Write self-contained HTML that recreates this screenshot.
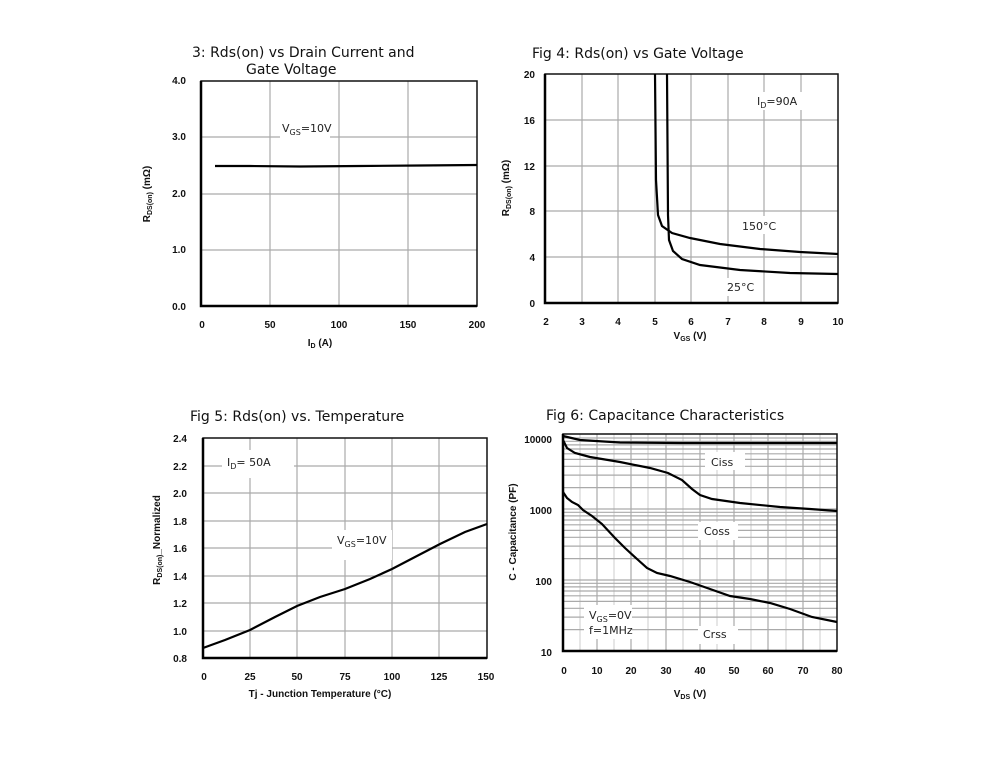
<!DOCTYPE html>
<html><head><meta charset="utf-8"><style>
html,body{margin:0;padding:0;background:#fff}
svg{display:block}
.t{font-family:"DejaVu Sans","Liberation Sans",sans-serif;font-size:14px;fill:#111}
.k{font-family:"Liberation Sans",sans-serif;font-size:10px;font-weight:bold;fill:#111}
.a{font-family:"Liberation Sans",sans-serif;font-size:10px;font-weight:bold;fill:#111}
.l{font-family:"DejaVu Sans","Liberation Sans",sans-serif;font-size:11px;fill:#222}
.g{stroke:#aaa;stroke-width:1.2;fill:none}
.g2{stroke:#ccc;stroke-width:1;fill:none}
.c{stroke:#000;stroke-width:2.2;fill:none}
</style></head><body>
<svg width="1005" height="764" viewBox="0 0 1005 764" xmlns="http://www.w3.org/2000/svg">
<!-- Fig 3 -->
<text class="t" x="192" y="57">3: Rds(on) vs Drain Current and</text>
<text class="t" x="246" y="74">Gate Voltage</text>
<g class="g">
<path d="M270 81V306M339 81V306M408 81V306M201 137H477M201 194H477M201 250H477"/>
</g>
<rect x="280" y="118" width="50" height="20" fill="#fff"/>
<rect x="201" y="81" width="276" height="225" fill="none" stroke="#111" stroke-width="1.5"/>
<path d="M201 81V306H477" stroke="#000" stroke-width="2.5" fill="none"/>
<path class="c" d="M215 166L250 166L300 166.5L360 166L420 165.5L477 165"/>
<text class="l" x="282" y="132">V<tspan font-size="8" dy="3">GS</tspan><tspan dy="-3">=10V</tspan></text>
<g class="k" text-anchor="end"><text x="186" y="84">4.0</text><text x="186" y="140">3.0</text><text x="186" y="197">2.0</text><text x="186" y="253">1.0</text><text x="186" y="310">0.0</text></g>
<g class="k" text-anchor="middle"><text x="202" y="328">0</text><text x="270" y="328">50</text><text x="339" y="328">100</text><text x="408" y="328">150</text><text x="477" y="328">200</text></g>
<text class="a" x="320" y="346" text-anchor="middle">I<tspan font-size="7" dy="2">D</tspan><tspan dy="-2"> (A)</tspan></text>
<text class="a" transform="translate(150 194) rotate(-90)" text-anchor="middle">R<tspan font-size="7" dy="2">DS(on)</tspan><tspan dy="-2"> (mΩ)</tspan></text>

<!-- Fig 4 -->
<text class="t" x="532" y="58">Fig 4: Rds(on) vs Gate Voltage</text>
<g class="g">
<path d="M582 74V303M618 74V303M655 74V303M691 74V303M728 74V303M764 74V303M801 74V303M545 120H838M545 166H838M545 211H838M545 257H838"/>
</g>
<rect x="755" y="92" width="48" height="18" fill="#fff"/>
<rect x="738" y="216" width="44" height="18" fill="#fff"/>
<rect x="722" y="278" width="40" height="18" fill="#fff"/>
<rect x="545" y="74" width="293" height="229" fill="none" stroke="#111" stroke-width="1.5"/>
<path d="M545 74V303H838" stroke="#000" stroke-width="2.5" fill="none"/>
<path class="c" d="M655 74L656 180L658 215L662 226L672 233L690 238L720 244L760 249L800 252L838 254"/>
<path class="c" d="M667 74L668 215L669 240L673 251L682 259L700 265L740 270L790 273L838 274"/>
<text class="l" x="757" y="105">I<tspan font-size="8" dy="3">D</tspan><tspan dy="-3">=90A</tspan></text>
<text class="l" x="742" y="230">150°C</text>
<text class="l" x="727" y="291">25°C</text>
<g class="k" text-anchor="end"><text x="535" y="78">20</text><text x="535" y="124">16</text><text x="535" y="170">12</text><text x="535" y="215">8</text><text x="535" y="261">4</text><text x="535" y="307">0</text></g>
<g class="k" text-anchor="middle"><text x="546" y="325">2</text><text x="582" y="325">3</text><text x="618" y="325">4</text><text x="655" y="325">5</text><text x="691" y="325">6</text><text x="728" y="325">7</text><text x="764" y="325">8</text><text x="801" y="325">9</text><text x="838" y="325">10</text></g>
<text class="a" x="690" y="339" text-anchor="middle">V<tspan font-size="7" dy="2">GS</tspan><tspan dy="-2"> (V)</tspan></text>
<text class="a" transform="translate(509 188) rotate(-90)" text-anchor="middle">R<tspan font-size="7" dy="2">DS(on)</tspan><tspan dy="-2"> (mΩ)</tspan></text>

<!-- Fig 5 -->
<text class="t" x="190" y="421">Fig 5: Rds(on) vs. Temperature</text>
<g class="g">
<path d="M250 438V658M297 438V658M345 438V658M392 438V658M439 438V658M203 466H487M203 493H487M203 521H487M203 548H487M203 576H487M203 603H487M203 631H487"/>
</g>
<rect x="222" y="450" width="72" height="28" fill="#fff"/>
<rect x="332" y="530" width="60" height="30" fill="#fff"/>
<rect x="203" y="438" width="284" height="220" fill="none" stroke="#111" stroke-width="1.5"/>
<path d="M203 438V658H487" stroke="#000" stroke-width="2.5" fill="none"/>
<path class="c" d="M203 648L225 640L250 630L275 617L297 606L320 597L345 589L370 579L392 569L415 557L440 544L465 532L487 524"/>
<text class="l" x="227" y="466">I<tspan font-size="8" dy="3">D</tspan><tspan dy="-3">= 50A</tspan></text>
<text class="l" x="337" y="544">V<tspan font-size="8" dy="3">GS</tspan><tspan dy="-3">=10V</tspan></text>
<g class="k" text-anchor="end"><text x="187" y="442">2.4</text><text x="187" y="470">2.2</text><text x="187" y="497">2.0</text><text x="187" y="525">1.8</text><text x="187" y="552">1.6</text><text x="187" y="580">1.4</text><text x="187" y="607">1.2</text><text x="187" y="635">1.0</text><text x="187" y="662">0.8</text></g>
<g class="k" text-anchor="middle"><text x="204" y="680">0</text><text x="250" y="680">25</text><text x="297" y="680">50</text><text x="345" y="680">75</text><text x="392" y="680">100</text><text x="439" y="680">125</text><text x="486" y="680">150</text></g>
<text class="a" x="320" y="697" text-anchor="middle">Tj - Junction Temperature (°C)</text>
<text class="a" transform="translate(160 540) rotate(-90)" text-anchor="middle">R<tspan font-size="7" dy="2">DS(on)</tspan><tspan dy="-2">_Normalized</tspan></text>

<!-- Fig 6 -->
<text class="t" x="546" y="420">Fig 6: Capacitance Characteristics</text>
<g class="g2">
<path d="M580 434V651M614 434V651M648 434V651M683 434V651M717 434V651M751 434V651M786 434V651M820 434V651"/>
</g>
<g class="g">
<path d="M597 434V651M631 434V651M666 434V651M700 434V651M734 434V651M768 434V651M803 434V651"/>
<path d="M563 629.6H837M563 617.1H837M563 608.3H837M563 601.4H837M563 595.8H837M563 591H837M563 586.9H837M563 583.3H837M563 580H837M563 558.6H837M563 546.1H837M563 537.3H837M563 530.4H837M563 524.8H837M563 520H837M563 515.9H837M563 512.3H837M563 509H837M563 487.6H837M563 475.1H837M563 466.3H837M563 459.4H837M563 453.8H837M563 449H837M563 444.9H837M563 441.3H837M563 438H837"/>
</g>
<rect x="705" y="452" width="40" height="18" fill="#fff"/>
<rect x="698" y="522" width="40" height="18" fill="#fff"/>
<rect x="698" y="626" width="40" height="18" fill="#fff"/>
<rect x="584" y="605" width="48" height="34" fill="#fff"/>
<rect x="563" y="434" width="274" height="217" fill="none" stroke="#111" stroke-width="1.5"/>
<path d="M563 434V651H837" stroke="#000" stroke-width="2.5" fill="none"/>
<path class="c" d="M563 436L580 440L620 442.5L680 443L837 443"/>
<path class="c" d="M563 440L567 448L575 453L590 457L620 462L650 468L668 473L682 480L692 489L700 495L712 499L740 503L780 507L810 509L837 511"/>
<path class="c" d="M563 492L567 498L572 502L578 505L583 510L592 516L602 524L615 538L625 548L637 559L647 568L657 573L670 576L690 582L710 589L730 596L750 599L770 603L790 609L812 617L837 622"/>
<text class="l" x="711" y="466">Ciss</text>
<text class="l" x="704" y="535">Coss</text>
<text class="l" x="703" y="638">Crss</text>
<text class="l" x="589" y="619">V<tspan font-size="8" dy="3">GS</tspan><tspan dy="-3">=0V</tspan></text>
<text class="l" x="589" y="634">f=1MHz</text>
<g class="k" text-anchor="end"><text x="552" y="443">10000</text><text x="552" y="514">1000</text><text x="552" y="585">100</text><text x="552" y="656">10</text></g>
<g class="k" text-anchor="middle"><text x="564" y="674">0</text><text x="597" y="674">10</text><text x="631" y="674">20</text><text x="666" y="674">30</text><text x="700" y="674">40</text><text x="734" y="674">50</text><text x="768" y="674">60</text><text x="803" y="674">70</text><text x="837" y="674">80</text></g>
<text class="a" x="690" y="697" text-anchor="middle">V<tspan font-size="7" dy="2">DS</tspan><tspan dy="-2"> (V)</tspan></text>
<text class="a" transform="translate(516 532) rotate(-90)" text-anchor="middle">C - Capacitance (PF)</text>
</svg>
</body></html>
